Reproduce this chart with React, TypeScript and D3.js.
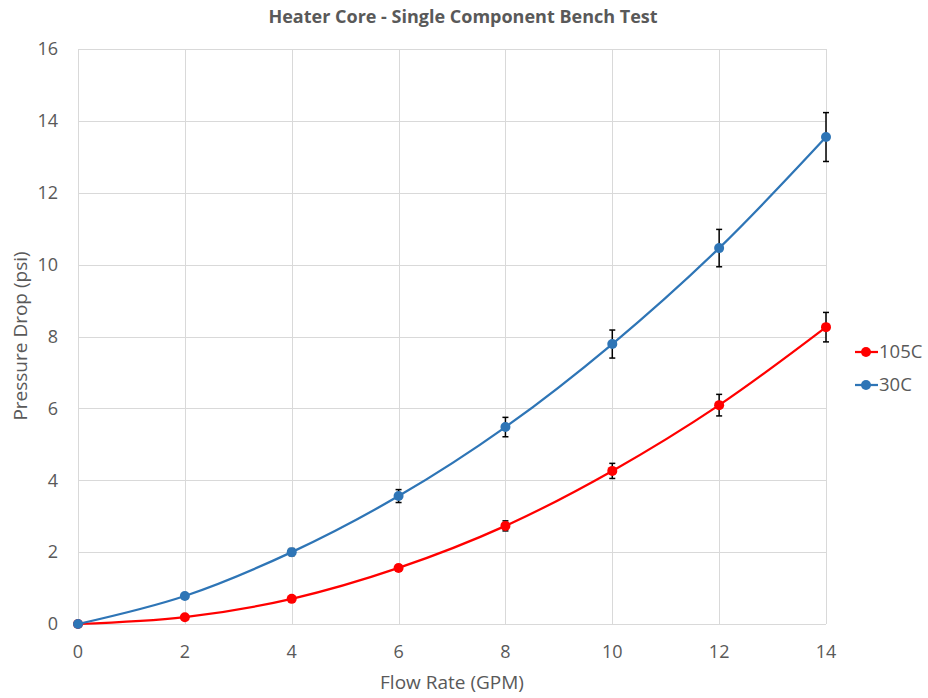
import React, { useEffect, useRef } from 'react';
import * as d3 from 'd3';

const flowRate = [0, 2, 4, 6, 8, 10, 12, 14];
const drop105C = [0, 0.19, 0.7, 1.56, 2.73, 4.26, 6.09, 8.26];
const err105C = [0, 0.01, 0.04, 0.08, 0.14, 0.21, 0.3, 0.41];
const drop30C = [0, 0.78, 2.0, 3.56, 5.48, 7.79, 10.46, 13.55];
const err30C = [0, 0.04, 0.1, 0.18, 0.27, 0.39, 0.52, 0.68];
const xTicks = [0, 2, 4, 6, 8, 10, 12, 14];
const yTicks = [0, 2, 4, 6, 8, 10, 12, 14, 16];
const seriesNames = ['105C', '30C'];
const seriesColors = ['#ff0000', '#2e75b6'];

const FONT = '"Open Sans", sans-serif';

const App: React.FC = () => {
  const svgRef = useRef<SVGSVGElement>(null);
  const width = 928;
  const height = 698;

  useEffect(() => {
    if (!svgRef.current) return;
    const svg = d3.select(svgRef.current);
    svg.selectAll('*').remove();

    const left = 78, right = 826, top = 49, bottom = 624;
    const x = d3.scaleLinear().domain([0, 14]).range([left, right]);
    const y = d3.scaleLinear().domain([0, 16]).range([bottom, top]);

    svg.append('rect').attr('width', width).attr('height', height).attr('fill', '#fff');

    // gridlines
    const grid = svg.append('g').attr('stroke', '#d9d9d9').attr('stroke-width', 1);
    yTicks.forEach(t => {
      grid.append('line').attr('x1', left).attr('x2', right)
        .attr('y1', Math.round(y(t)) + 0.5).attr('y2', Math.round(y(t)) + 0.5);
    });
    xTicks.forEach(t => {
      grid.append('line').attr('y1', top).attr('y2', bottom)
        .attr('x1', Math.round(x(t)) + 0.5).attr('x2', Math.round(x(t)) + 0.5);
    });

    // tick labels
    svg.append('g').selectAll('text').data(yTicks).enter().append('text')
      .attr('x', left - 20).attr('y', d => y(d)).attr('dy', '0.35em')
      .attr('text-anchor', 'end').attr('font-family', FONT).attr('font-size', 18)
      .attr('fill', '#595959').text(d => d);
    svg.append('g').selectAll('text').data(xTicks).enter().append('text')
      .attr('x', d => x(d)).attr('y', bottom + 34)
      .attr('text-anchor', 'middle').attr('font-family', FONT).attr('font-size', 18)
      .attr('fill', '#595959').text(d => d);

    // titles
    svg.append('text').attr('x', 463).attr('y', 23).attr('text-anchor', 'middle')
      .attr('font-family', FONT).attr('font-size', 18).attr('font-weight', 'bold')
      .attr('fill', '#595959').text('Heater Core - Single Component Bench Test');
    svg.append('text').attr('x', 452).attr('y', 689).attr('text-anchor', 'middle')
      .attr('font-family', FONT).attr('font-size', 19)
      .attr('fill', '#595959').text('Flow Rate (GPM)');
    svg.append('text').attr('transform', `translate(27, 336) rotate(-90)`)
      .attr('text-anchor', 'middle')
      .attr('font-family', FONT).attr('font-size', 19)
      .attr('fill', '#595959').text('Pressure Drop (psi)');

    const series = [
      { vals: drop105C, errs: err105C },
      { vals: drop30C, errs: err30C },
    ];
    const line = d3.line<number>()
      .x((_, i) => x(flowRate[i]))
      .y(d => y(d))
      .curve(d3.curveCatmullRom.alpha(0.5));

    series.forEach((s, si) => {
      const g = svg.append('g');
      g.append('path').attr('d', line(s.vals) || '')
        .attr('fill', 'none').attr('stroke', seriesColors[si]).attr('stroke-width', 2.25);
      // error bars
      s.vals.forEach((v, i) => {
        const e = s.errs[i];
        if (e <= 0) return;
        const cx = x(flowRate[i]);
        g.append('line').attr('x1', cx).attr('x2', cx).attr('y1', y(v + e)).attr('y2', y(v - e))
          .attr('stroke', '#000').attr('stroke-width', 1.5);
        [v + e, v - e].forEach(ev => {
          g.append('line').attr('x1', cx - 3).attr('x2', cx + 3).attr('y1', y(ev)).attr('y2', y(ev))
            .attr('stroke', '#000').attr('stroke-width', 1.5);
        });
      });
      g.selectAll('circle').data(s.vals).enter().append('circle')
        .attr('cx', (_, i) => x(flowRate[i])).attr('cy', d => y(d)).attr('r', 5)
        .attr('fill', seriesColors[si]);
    });

    // legend
    seriesNames.forEach((name, i) => {
      const ly = 352 + i * 33;
      const g = svg.append('g');
      g.append('line').attr('x1', 855).attr('x2', 878).attr('y1', ly).attr('y2', ly)
        .attr('stroke', seriesColors[i]).attr('stroke-width', 2.25);
      g.append('circle').attr('cx', 866).attr('cy', ly).attr('r', 5).attr('fill', seriesColors[i]);
      g.append('text').attr('x', 879).attr('y', ly).attr('dy', '0.35em')
        .attr('font-family', FONT).attr('font-size', 18.5).attr('fill', '#595959').text(name);
    });
  }, []);

  return (
    <div style={{ position: 'fixed', left: 0, top: 0, width, height, background: '#fff' }}>
      <svg ref={svgRef} width={width} height={height} viewBox={`0 0 ${width} ${height}`} />
    </div>
  );
};

export default App;
